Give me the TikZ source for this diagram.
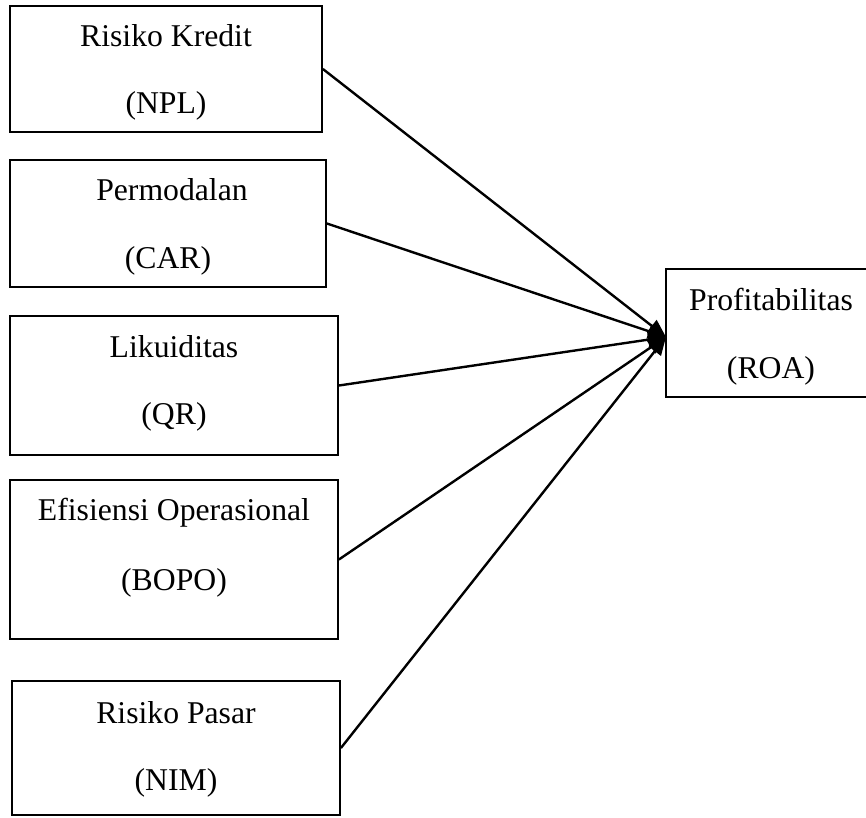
\documentclass[tikz,border=0pt]{standalone}
\usepackage{fontspec}
\setmainfont{Liberation Serif}
\usetikzlibrary{arrows.meta}
\begin{document}
\begin{tikzpicture}[x=1pt,y=-1pt,
  box/.style={draw=black,line width=1.8pt},
  lbl/.style={anchor=base,inner sep=0pt,font=\fontsize{31.7}{38}\selectfont},
  conn/.style={line width=2.4pt,-{Triangle[length=18pt,width=15pt]}}]
\useasboundingbox (0,0) rectangle (866,817);
\clip (0,0) rectangle (866,817);
% boxes
\node[box,inner sep=0pt,minimum width=312pt,minimum height=126pt] (npl) at (166,69) {};
\node[box,inner sep=0pt,minimum width=316pt,minimum height=127pt] (car) at (168,223.5) {};
\node[box,inner sep=0pt,minimum width=328pt,minimum height=139pt] (qr) at (174,385.5) {};
\node[box,inner sep=0pt,minimum width=328pt,minimum height=159pt] (bopo) at (174,559.5) {};
\node[box,inner sep=0pt,minimum width=328pt,minimum height=134pt] (nim) at (176,748) {};
\node[box,inner sep=0pt,minimum width=230pt,minimum height=128pt] (roa) at (781,333) {};
% texts
\node[lbl] (t1a) at (166,46) {Risiko Kredit};
\node[lbl] (t1b) at (166,113) {(NPL)};
\node[lbl] (t2a) at (172,200) {Permodalan};
\node[lbl] (t2b) at (168,268) {(CAR)};
\node[lbl] (t3a) at (174,357) {Likuiditas};
\node[lbl] (t3b) at (174,424) {(QR)};
\node[lbl] (t4a) at (174,520) {Efisiensi Operasional};
\node[lbl] (t4b) at (174,590) {(BOPO)};
\node[lbl] (t5a) at (176,723) {Risiko Pasar};
\node[lbl] (t5b) at (176,790) {(NIM)};
\node[lbl] (t6a) at (771,310) {Profitabilitas};
\node[lbl] (t6b) at (771,378) {(ROA)};
% connectors
\coordinate (tip) at (666,337);
\draw[conn] (npl.east) -- (tip);
\draw[conn] (car.east) -- (tip);
\draw[conn] (qr.east) -- (tip);
\draw[conn] (bopo.east) -- (tip);
\draw[conn] (nim.east) -- (tip);
\end{tikzpicture}
\end{document}
